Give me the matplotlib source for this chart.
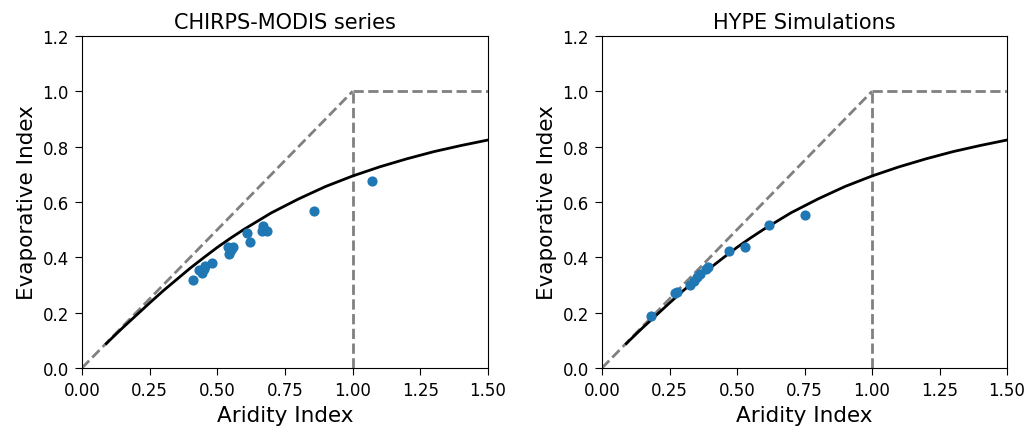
import matplotlib
matplotlib.use("Agg")
import matplotlib.pyplot as plt

# Scatter data
chirps_ai = [0.411, 0.432, 0.442, 0.452, 0.456, 0.479, 0.540, 0.544, 0.550, 0.559, 0.608, 0.621, 0.664, 0.670, 0.682, 0.857, 1.073]
chirps_ei = [0.319, 0.355, 0.345, 0.358, 0.368, 0.379, 0.436, 0.412, 0.425, 0.436, 0.488, 0.456, 0.496, 0.514, 0.496, 0.569, 0.677]
hype_ai = [0.180, 0.270, 0.279, 0.324, 0.339, 0.351, 0.363, 0.385, 0.394, 0.470, 0.529, 0.618, 0.751]
hype_ei = [0.189, 0.270, 0.274, 0.300, 0.316, 0.328, 0.340, 0.358, 0.365, 0.423, 0.438, 0.518, 0.553]

# Budyko curve values
curve_ai = [0.09, 0.10, 0.15, 0.20, 0.25, 0.30, 0.35, 0.40, 0.45, 0.50, 0.55, 0.60, 0.70, 0.80, 0.90, 1.00, 1.10, 1.20, 1.30, 1.40, 1.50]
curve_ei = [0.088, 0.098, 0.145, 0.190, 0.235, 0.279, 0.320, 0.361, 0.399, 0.436, 0.470, 0.502, 0.561, 0.611, 0.656, 0.694, 0.727, 0.756, 0.782, 0.804, 0.824]

# Energy / water limits
limit_x = [0.0, 1.0, 1.0, 1.0, 1.5]
limit_y = [0.0, 1.0, 0.0, 1.0, 1.0]

titles = ["CHIRPS-MODIS series", "HYPE Simulations"]
xticks = [0.0, 0.25, 0.5, 0.75, 1.0, 1.25, 1.5]
xticklabels = ["0.00", "0.25", "0.50", "0.75", "1.00", "1.25", "1.50"]
yticks = [0.0, 0.2, 0.4, 0.6, 0.8, 1.0, 1.2]
yticklabels = ["0.0", "0.2", "0.4", "0.6", "0.8", "1.0", "1.2"]

fig = plt.figure(figsize=(10.30, 4.31), dpi=100)
axes = [fig.add_axes([0.0796, 0.1439, 0.3942, 0.7703]),
        fig.add_axes([0.5845, 0.1439, 0.3932, 0.7703])]

datasets = [(chirps_ai, chirps_ei), (hype_ai, hype_ei)]
for ax, title, (xs, ys) in zip(axes, titles, datasets):
    ax.plot(limit_x[:2], limit_y[:2], linestyle="--", color="gray", lw=2)
    ax.plot(limit_x[2:4], limit_y[2:4], linestyle="--", color="gray", lw=2)
    ax.plot(limit_x[3:], limit_y[3:], linestyle="--", color="gray", lw=2)
    ax.plot(curve_ai, curve_ei, color="black", lw=2)
    ax.scatter(xs, ys, color="#1f77b4", s=40, zorder=3)
    ax.set_xlim(0, 1.5)
    ax.set_ylim(0, 1.2)
    ax.set_xticks(xticks)
    ax.set_xticklabels(xticklabels)
    ax.set_yticks(yticks)
    ax.set_yticklabels(yticklabels)
    ax.tick_params(labelsize=12, length=5, pad=4.5)
    ax.set_xlabel("Aridity Index", fontsize=15.5)
    ax.set_ylabel("Evaporative Index", fontsize=15.5)
    ax.set_title(title, fontsize=15)

fig.savefig("out.png", dpi=100)
